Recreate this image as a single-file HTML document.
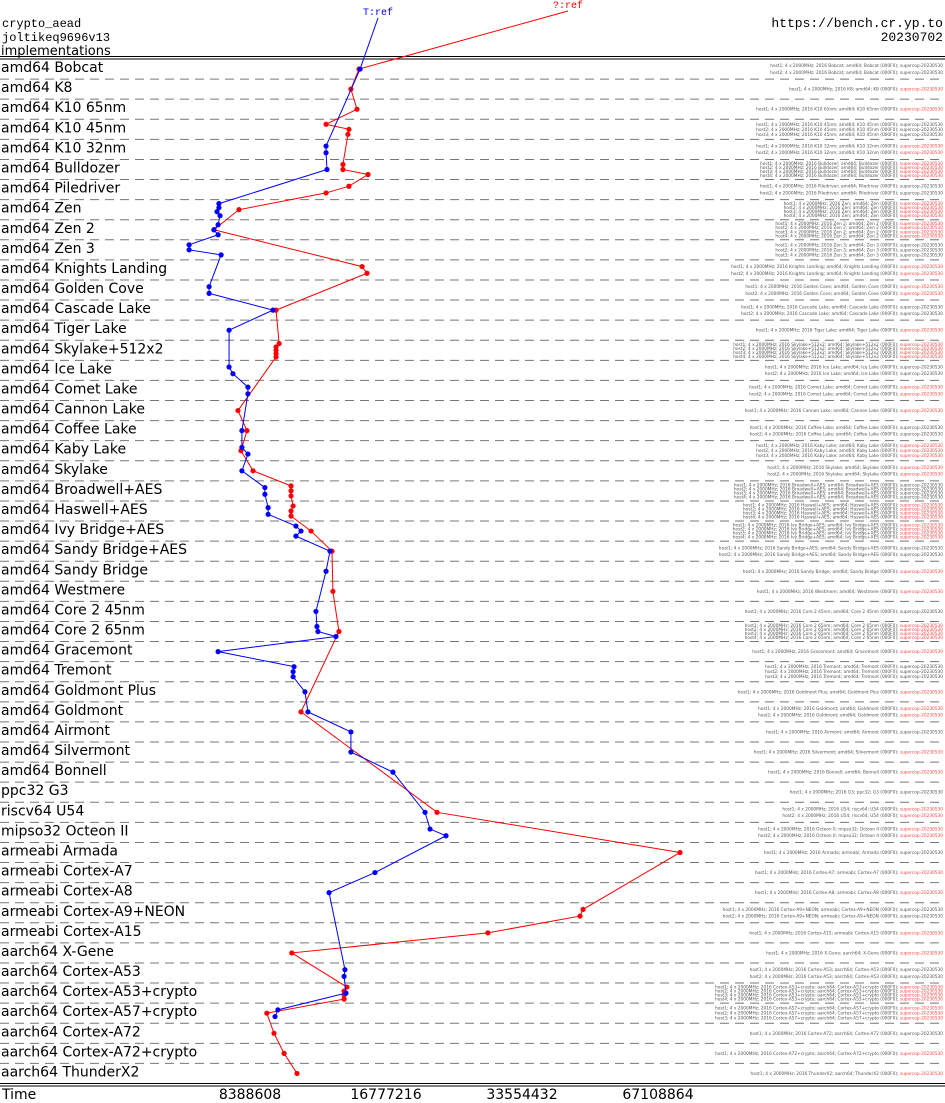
<!DOCTYPE html>
<html><head><meta charset="utf-8"><style>
html,body{margin:0;padding:0;background:#fff;}
svg{display:block;}
</style></head><body>
<svg id="chart" width="945" height="1103" viewBox="0 0 945 1103" xmlns="http://www.w3.org/2000/svg">
<text x="2" y="27" font-family="Liberation Mono, monospace" font-size="12">crypto_aead</text>
<text x="2" y="41" font-family="Liberation Mono, monospace" font-size="12">joltikeq9696v13</text>
<text x="1" y="55" font-family="DejaVu Sans, sans-serif" font-size="13">implementations</text>
<text x="943" y="27" text-anchor="end" font-family="Liberation Mono, monospace" font-size="13">https://bench.cr.yp.to</text>
<text x="943" y="41" text-anchor="end" font-family="Liberation Mono, monospace" font-size="13">20230702</text>
<line x1="0" y1="56.5" x2="945" y2="56.5" stroke="#000" stroke-width="1"/>
<line x1="0" y1="59" x2="945" y2="59" stroke="#000" stroke-width="1"/>
<line x1="0" y1="1083.5" x2="945" y2="1083.5" stroke="#000" stroke-width="1"/>
<line x1="0" y1="1086" x2="945" y2="1086" stroke="#000" stroke-width="1"/>
<text x="2" y="1099" font-family="DejaVu Sans, sans-serif" font-size="14">Time</text>
<g id="grid"></g><g id="labels"></g><g id="ticks"></g><g id="series"></g><g id="notes"></g>
</svg>
<script>
const categories = ["amd64 Bobcat","amd64 K8","amd64 K10 65nm","amd64 K10 45nm","amd64 K10 32nm","amd64 Bulldozer","amd64 Piledriver","amd64 Zen","amd64 Zen 2","amd64 Zen 3","amd64 Knights Landing","amd64 Golden Cove","amd64 Cascade Lake","amd64 Tiger Lake","amd64 Skylake+512x2","amd64 Ice Lake","amd64 Comet Lake","amd64 Cannon Lake","amd64 Coffee Lake","amd64 Kaby Lake","amd64 Skylake","amd64 Broadwell+AES","amd64 Haswell+AES","amd64 Ivy Bridge+AES","amd64 Sandy Bridge+AES","amd64 Sandy Bridge","amd64 Westmere","amd64 Core 2 45nm","amd64 Core 2 65nm","amd64 Gracemont","amd64 Tremont","amd64 Goldmont Plus","amd64 Goldmont","amd64 Airmont","amd64 Silvermont","amd64 Bonnell","ppc32 G3","riscv64 U54","mipso32 Octeon II","armeabi Armada","armeabi Cortex-A7","armeabi Cortex-A8","armeabi Cortex-A9+NEON","armeabi Cortex-A15","aarch64 X-Gene","aarch64 Cortex-A53","aarch64 Cortex-A53+crypto","aarch64 Cortex-A57+crypto","aarch64 Cortex-A72","aarch64 Cortex-A72+crypto","aarch64 ThunderX2"];
const tickValues = [8388608,16777216,33554432,67108864];
const tickLabels = ["8388608","16777216","33554432","67108864"];
const blueRows = [0,4,4,5,7,7,7,7,8,8,8,9,9,9,11,11,12,13,15,15,16,16,18,19,19,20,21,21,22,22,23,23,23,24,25,27,28,28,28,29,30,30,30,31,32,33,34,35,37,38,38,40,41,45,45,46,47,47];
const blueVals = [14.70,12.36,12.36,12.42,7.16,7.16,7.09,7.20,7.13,6.98,7.13,6.15,6.15,7.24,6.81,6.81,9.43,7.54,7.54,7.69,8.30,8.30,8.05,8.05,8.30,8.05,9.05,9.05,9.20,9.20,10.60,10.88,10.60,12.61,12.36,11.74,11.80,11.86,13.00,7.13,10.50,10.45,10.45,11.10,11.27,14.03,14.03,17.38,20.47,21.00,22.78,15.86,12.55,13.61,13.55,13.68,9.67,9.53];
const redRows = [0,1,2,3,3,3,5,5,5,6,6,7,8,10,10,12,14,14,14,14,14,17,18,19,20,21,21,21,22,22,22,23,24,26,28,32,37,39,42,42,43,44,46,46,46,46,47,48,49,50];
const redVals = [14.62,14.03,14.47,12.36,13.89,13.82,13.47,13.47,15.31,13.89,12.36,7.93,6.98,14.85,15.23,9.58,9.73,9.58,9.58,9.58,9.58,7.89,8.26,8.01,8.52,10.34,10.34,10.34,10.45,10.34,10.34,11.45,12.74,12.80,13.20,10.88,21.76,75.1,45.8,45.1,28.2,10.38,13.75,13.55,13.55,13.55,9.14,9.48,9.98,10.66];
const NS="http://www.w3.org/2000/svg";
const top0=59, rowH=(1083.5-59)/categories.length;
function xScale(v){return 250+(Math.log2(v)-23)*136;}
function rowTop(i){return top0+i*rowH;}
function mk(tag,attrs,parent){const e=document.createElementNS(NS,tag);for(const k in attrs)e.setAttribute(k,attrs[k]);parent.appendChild(e);return e;}
const grid=document.getElementById('grid'),labels=document.getElementById('labels'),ticks=document.getElementById('ticks'),series=document.getElementById('series'),notes=document.getElementById('notes');
categories.forEach((c,i)=>{
  if(i>0){const l=mk('line',{x1:0,x2:945,y1:rowTop(i),y2:rowTop(i),stroke:'#777','stroke-width':1,'stroke-dasharray':'9,6'},grid);
    
    }
  const t=mk('text',{x:1,y:rowTop(i)+rowH/2+3,'font-family':'DejaVu Sans, sans-serif','font-size':14},labels);
  t.textContent=c;
  
  
});
tickValues.forEach((v,i)=>{
  const t=mk('text',{x:xScale(v),y:1099,'text-anchor':'middle','font-family':'DejaVu Sans, sans-serif','font-size':14},ticks);
  t.textContent=tickLabels[i];
  
  
});
function pts(rows,vals){
  const counts={},seen={};rows.forEach(r=>counts[r]=(counts[r]||0)+1);
  return rows.map((r,i)=>{seen[r]=(seen[r]||0)+1;return [xScale(vals[i]*1e6),rowTop(r)+rowH*seen[r]/(counts[r]+1)];});
}
function drawSeries(rows,vals,color,name,refX,refY,refLabel){
  const p=pts(rows,vals);
  const g=mk('g',{},series);
  
  
  const all=[[refX,refY]].concat(p);
  const pl=mk('polyline',{points:all.map(q=>q.join(',')).join(' '),fill:'none',stroke:color,'stroke-width':1},g);
  
  
  p.forEach(q=>{const c=mk('circle',{cx:q[0],cy:q[1],r:2.6,fill:color},g);
    
    });
  const t=mk('text',{x:refX,y:refY-3,'text-anchor':'middle','font-family':'Liberation Mono, monospace','font-size':10,fill:color},g);
  t.textContent=refLabel;
  
  
}
drawSeries(redRows,redVals,'#f00','red','568','11','?:ref');
drawSeries(blueRows,blueVals,'#00f','blue','378','18','T:ref');
const allRows=blueRows.concat(redRows);
categories.forEach((c,i)=>{
  const n=Math.max(1,Math.min(4,allRows.filter(r=>r===i).length));
  for(let k=0;k<n;k++){
    const y=rowTop(i)+rowH*(k+1)/(n+1)+1.5;
    const t=mk('text',{x:943,y:y,'text-anchor':'end','font-family':'DejaVu Sans, sans-serif','font-size':4.3,fill:'#555'},notes);
    t.textContent='host'+(k+1)+'; 4 x 2000MHz; 2016 '+c.replace(/^\S+ /,'')+'; '+c.split(' ')[0]+'; '+c.replace(/^\S+ /,'')+' (000F0); ';
    const s=mk('tspan',{fill:(i%3===0?'#555':'#f44')},t);
    s.textContent='supercop-20230530';
    
    
  }
});
</script>
</body></html>
